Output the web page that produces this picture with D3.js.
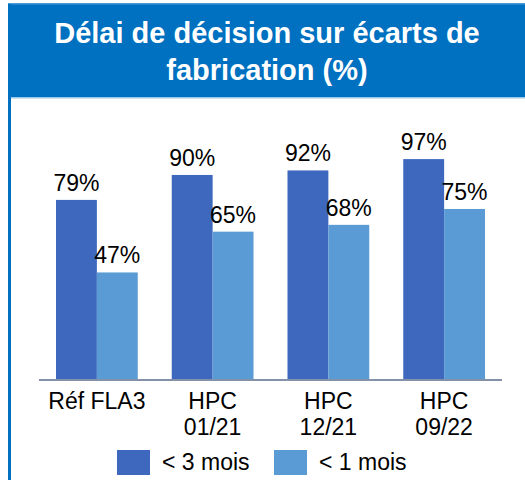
<!DOCTYPE html>
<html>
<head>
<meta charset="utf-8">
<script src="https://cdn.jsdelivr.net/npm/d3@7"></script>
<style>
  body { margin: 0; background: #fff; }
  svg { display: block; font-family: "Liberation Sans", Arial, sans-serif; }
</style>
</head>
<body>
<svg id="chart" width="525" height="480"></svg>
<script>
// données
var categories = [["Réf FLA3"], ["HPC", "01/21"], ["HPC", "12/21"], ["HPC", "09/22"]];
var series = ["< 3 mois", "< 1 mois"];
var values3 = [79, 90, 92, 97];
var values1 = [47, 65, 68, 75];
var titleLines = ["Délai de décision sur écarts de", "fabrication (%)"];

var colors = ["#3D68BD", "#5B9BD5"];

var svg = d3.select("#chart");

// cadre + bandeau titre
svg.append("rect").attr("x", 8).attr("y", 4).attr("width", 517).attr("height", 93).attr("fill", "#0070C0");
svg.append("rect").attr("x", 8).attr("y", 3).attr("width", 517).attr("height", 1.5).attr("fill", "#4a9ad8");
svg.append("rect").attr("x", 11).attr("y", 97).attr("width", 514).attr("height", 1.5).attr("fill", "#9cc8ea");
svg.append("rect").attr("x", 8).attr("y", 4).attr("width", 3).attr("height", 476).attr("fill", "#0070C0");

svg.append("text")
  .attr("x", 267)
  .attr("text-anchor", "middle")
  .attr("fill", "#fff")
  .style("font-weight", "bold")
  .style("font-size", "29px")
  .selectAll("tspan")
  .data(titleLines)
  .enter()
  .append("tspan")
  .attr("x", 267)
  .attr("y", function(d, i) { return 43 + i * 37; })
  .text(function(d) { return d; });

// échelles
var x0 = d3.scaleBand().domain(d3.range(categories.length)).range([39, 502]).paddingInner(0).paddingOuter(0);
var x1 = d3.scaleBand().domain([0, 1]).range([17, x0.bandwidth() - 17]);
var y = d3.scaleLinear().domain([0, 100]).range([379, 152.3]);

var rows = categories.map(function(c, i) { return { i: i, vals: [values3[i], values1[i]] }; });

var groups = svg.append("g")
  .selectAll("g")
  .data(rows)
  .enter()
  .append("g")
  .attr("transform", function(d) { return "translate(" + x0(d.i) + ",0)"; });

groups.selectAll("rect")
  .data(function(d) { return d.vals; })
  .enter()
  .append("rect")
  .attr("x", function(d, j) { return x1(j); })
  .attr("y", function(d) { return y(d); })
  .attr("width", x1.bandwidth())
  .attr("height", function(d) { return y(0) - y(d); })
  .attr("fill", function(d, j) { return colors[j]; });

groups.selectAll("text.val")
  .data(function(d) { return d.vals; })
  .enter()
  .append("text")
  .attr("class", "val")
  .attr("x", function(d, j) { return x1(j) + x1.bandwidth() / 2; })
  .attr("y", function(d) { return y(d) - 9; })
  .attr("text-anchor", "middle")
  .style("font-size", "23px")
  .attr("fill", "#000")
  .text(function(d) { return d + "%"; });

// axe
svg.append("line")
  .attr("x1", 39).attr("x2", 502)
  .attr("y1", 380).attr("y2", 380)
  .attr("stroke", "#5b6e8c").attr("stroke-width", 1.5);

var labels = svg.append("g")
  .selectAll("text")
  .data(categories)
  .enter()
  .append("text")
  .attr("text-anchor", "middle")
  .style("font-size", "23px")
  .attr("fill", "#000");

labels.selectAll("tspan")
  .data(function(d, i) { return d.map(function(s) { return { s: s, i: i }; }); })
  .enter()
  .append("tspan")
  .attr("x", function(d) { return x0(d.i) + x0.bandwidth() / 2; })
  .attr("y", function(d, k) { return 409 + k * 26; })
  .text(function(d) { return d.s; });

// légende
var legendX = [117, 274];
var legend = svg.append("g")
  .selectAll("g")
  .data(series)
  .enter()
  .append("g")
  .attr("transform", function(d, i) { return "translate(" + legendX[i] + ",450)"; });

legend.append("rect")
  .attr("width", 33).attr("height", 25)
  .attr("fill", function(d, i) { return colors[i]; });

legend.append("text")
  .attr("x", 45).attr("y", 20)
  .style("font-size", "23px")
  .attr("fill", "#000")
  .text(function(d) { return d; });
</script>
</body>
</html>
